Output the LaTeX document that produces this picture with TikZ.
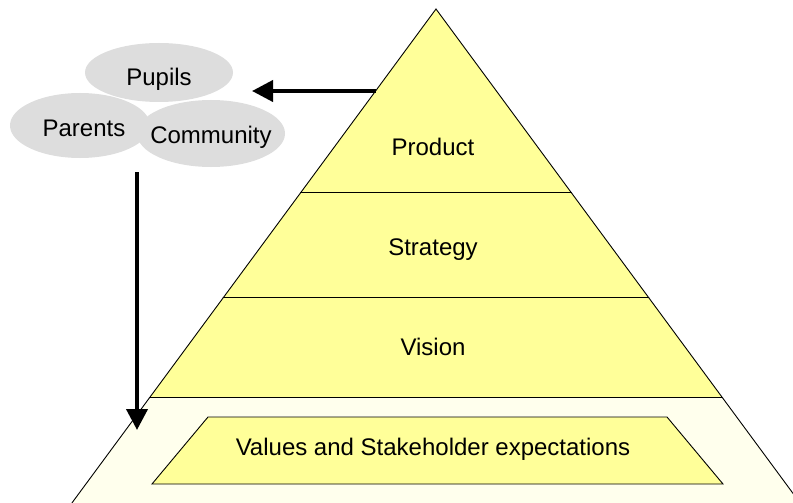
\documentclass[tikz,border=0pt]{standalone}
\usepackage{fontspec}
\setmainfont{Liberation Sans}
\usepackage{tikz}
\usetikzlibrary{arrows.meta,shapes.geometric}
\definecolor{pyryellow}{RGB}{255,255,153}
\definecolor{pyrpale}{RGB}{255,255,204}
\definecolor{groupgray}{RGB}{221,221,221}
\tikzset{
x=1pt, y=-1pt, % picture units are the pixels of the reference
layer/.style={fill=pyryellow, draw=black, line width=0.9pt},
layertext/.style={font=\fontsize{24}{28}\selectfont},
group/.style={ellipse, fill=groupgray, inner sep=0pt},
grouptext/.style={anchor=base, inner sep=0pt, font=\fontsize{24}{28}\selectfont},
bigarrow/.style={line width=4pt, -{Triangle[length=21pt,width=21pt]}}
}

\begin{document}
\begin{tikzpicture}
    \clip (0,0) rectangle (793,503);
    % the stakeholder groups
    \node [group, minimum width=148, minimum height=59] (pupils) at (159,72.5) {};
    \node [group, minimum width=140, minimum height=65] (parents) at (80,125.5) {};
    \node [group, minimum width=148, minimum height=67] (community) at (211,133.5) {};
    \node [grouptext] (pupilstext) at (159,85) {Pupils};
    \node [grouptext] (parentstext) at (84,136) {Parents};
    \node [grouptext] (communitytext) at (211,143) {Community};
    % bottom band of the pyramid
    \path [left color=pyrpale!35!white, middle color=pyrpale, right color=pyrpale!35!white]
        (149.7,397.5) -- (722.3,397.5) -- (800.1,503) -- (71.9,503) -- cycle;
    % upper layers
    \draw [layer] (436,9) -- (571.2,192.5) -- (300.8,192.5) -- cycle;
    \draw [layer] (300.8,192.5) -- (571.2,192.5) -- (648.6,297.5) -- (223.4,297.5) -- cycle;
    \draw [layer] (223.4,297.5) -- (648.6,297.5) -- (722.3,397.5) -- (149.7,397.5) -- cycle;
    \draw [black, line width=0.9pt] (149.7,397.5) -- (71.9,503);
    \draw [black, line width=0.9pt] (722.3,397.5) -- (800.1,503);
    \draw [layer] (208,417) -- (667,417) -- (723,484) -- (152,484) -- cycle;
    \node [layertext] (product) at (433,147) {Product};
    \node [layertext] (strategy) at (433,250) {Strategy};
    \node [layertext] (vision) at (433,347) {Vision};
    \node [layertext] (values) at (433,449) {Values and Stakeholder expectations};
    % feedback arrows
    \coordinate (prodedge) at (375.6,91);
    \coordinate (groupin) at (252,91);
    \coordinate (groupout) at (137,172);
    \coordinate (valuesin) at (137,430);
    \draw [bigarrow] (prodedge) -- (groupin);
    \draw [bigarrow] (groupout) -- (valuesin);
\end{tikzpicture}
\end{document}
